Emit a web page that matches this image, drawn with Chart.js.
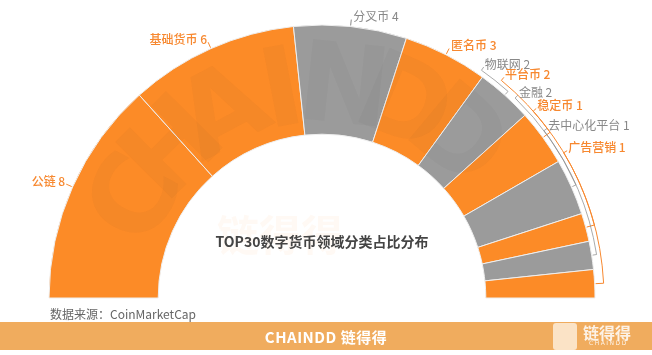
<!DOCTYPE html>
<html>
<head>
<meta charset="utf-8">
<script src="https://cdn.jsdelivr.net/npm/chart.js@4.4.0/dist/chart.umd.min.js"></script>
<style>
  body { margin: 0; background: #fff; font-family: "Noto Sans CJK SC", "Noto Sans", sans-serif; }
  #wrap { position: relative; width: 652px; height: 355px; overflow: hidden; }
  #chart { position: absolute; left: 0; top: 0; }
  #title { position: absolute; left: 0; width: 644px; top: 231px; text-align: center; font-size: 14px; font-weight: bold; color: #444; }
  #source { position: absolute; left: 50px; top: 305px; font-size: 12px; color: #666; }
  #banner { position: absolute; left: 0; top: 322px; width: 652px; height: 28px; background: #f0ac5e; }
  #brand { position: absolute; left: 0; width: 652px; top: 4px; text-align: center; color: #fff; font-size: 15px; font-weight: bold; letter-spacing: 0.5px; }
  #logo { position: absolute; left: 553px; top: 1px; width: 24px; height: 27px; background: #fbe3c6; border-radius: 3px; }
  #logoTxt { position: absolute; left: 583px; top: -2px; color: #fff; font-size: 16px; font-weight: bold; opacity: 0.85; }
  #logoSub { position: absolute; left: 589px; top: 17px; color: #fff; font-size: 6px; letter-spacing: 1.5px; opacity: 0.85; font-family: "DejaVu Sans", sans-serif; }
</style>
</head>
<body>
<div id="wrap">
  <canvas id="chart" width="652" height="355"></canvas>
  <div id="title">TOP30数字货币领域分类占比分布</div>
  <div id="source">数据来源：CoinMarketCap</div>
  <div id="banner">
    <div id="brand">CHAINDD 链得得</div>
    <div id="logo"></div>
    <div id="logoTxt">链得得</div>
    <div id="logoSub">CHAINDD</div>
  </div>
</div>
<script>
// categories and counts (TOP30 coins)
const categories = ['公链', '基础货币', '分叉币', '匿名币', '物联网', '平台币', '金融', '稳定币', '去中心化平台', '广告营销'];
const counts = [8, 6, 4, 3, 2, 2, 2, 1, 1, 1];
const ORANGE = '#fc8b27';
const GRAY = '#9b9b9b';
const sliceColors = [ORANGE, ORANGE, GRAY, ORANGE, GRAY, ORANGE, GRAY, ORANGE, GRAY, ORANGE];
const labelColors = ['#f7882f', '#f7882f', '#888', '#f7882f', '#888', '#f7882f', '#888', '#f7882f', '#888', '#f7882f'];
// small slices get their labels stacked up along the rim (degrees from the left end)
const stackedLabelDeg = { 4: 125, 5: 129.5, 6: 134, 7: 138.5, 8: 143, 9: 149 };

const toCanvasAngle = deg => -Math.PI + deg * Math.PI / 180;

// watermark + labels drawn over the arcs
const labelPlugin = {
    id: 'labels',
    afterDatasetsDraw(chart) {
        const ctx = chart.ctx;
        const arcs = chart.getDatasetMeta(0).data;
        const cx = arcs[0].x, cy = arcs[0].y, R = arcs[0].outerRadius;

        // faint CHAINDD watermark bent along the ring
        ctx.save();
        ctx.font = 'bold 110px "DejaVu Sans", sans-serif';
        ctx.fillStyle = 'rgba(60,60,60,0.035)';
        ctx.textAlign = 'center';
        ctx.textBaseline = 'middle';
        'CHAINDD'.split('').forEach((ch, i) => {
            const a = toCanvasAngle(28 + i * 17);
            ctx.save();
            ctx.translate(cx + 205 * Math.cos(a), cy + 205 * Math.sin(a));
            ctx.rotate(a + Math.PI / 2);
            ctx.fillText(ch, 0, 0);
            ctx.restore();
        });
        ctx.font = 'bold 42px "Noto Sans CJK SC"';
        ctx.fillStyle = 'rgba(252,139,39,0.05)';
        ctx.fillText('链得得', 280, 235);
        ctx.restore();

        ctx.save();
        ctx.textBaseline = 'middle';
        ctx.lineWidth = 1;
        arcs.forEach((arc, i) => {
            const mid = (arc.startAngle + arc.endAngle) / 2;
            const text = categories[i] + ' ' + counts[i];
            ctx.strokeStyle = labelColors[i];
            ctx.fillStyle = labelColors[i];
            ctx.font = (labelColors[i] === '#888' ? '' : '500 ') + '12px "Noto Sans CJK SC", sans-serif';
            if (stackedLabelDeg[i] === undefined) {
                const c = Math.cos(mid), s = Math.sin(mid);
                const px = cx + (R + 1) * c, py = cy + (R + 1) * s;
                const qx = px + 6 * c, qy = py + 6 * s;
                ctx.beginPath();
                ctx.moveTo(px, py);
                ctx.lineTo(qx, qy);
                ctx.stroke();
                ctx.textAlign = c < 0 ? 'right' : 'left';
                ctx.fillText(text, qx + (c < 0 ? -1 : 2), qy - 3);
            } else {
                const la = toCanvasAngle(stackedLabelDeg[i]);
                const rr = R + (i % 2 === 1 ? 9 : 5);
                ctx.globalAlpha = i % 2 === 1 ? 1 : 0.7;
                ctx.beginPath();
                ctx.moveTo(cx + (R + 1) * Math.cos(mid), cy + (R + 1) * Math.sin(mid));
                ctx.lineTo(cx + rr * Math.cos(mid), cy + rr * Math.sin(mid));
                ctx.arc(cx, cy, rr, mid, la, true);
                const qx = cx + (rr + 4) * Math.cos(la), qy = cy + (rr + 4) * Math.sin(la);
                ctx.lineTo(qx, qy);
                ctx.stroke();
                ctx.globalAlpha = 1;
                ctx.textAlign = 'left';
                ctx.fillText(text, qx + 1, qy - 3);
            }
        });
        ctx.restore();
    }
};

new Chart(document.getElementById('chart').getContext('2d'), {
    type: 'doughnut',
    data: {
        labels: categories,
        datasets: [{
            data: counts,
            backgroundColor: sliceColors,
            borderColor: '#eeeeee',
            borderWidth: 1
        }]
    },
    options: {
        responsive: false,
        animation: false,
        rotation: -90,
        circumference: 180,
        cutout: '60%',
        radius: 273,
        layout: { padding: { left: 49, right: 57, top: 25, bottom: 57 } },
        plugins: { legend: { display: false }, tooltip: { enabled: false } }
    },
    plugins: [labelPlugin]
});
</script>
</body>
</html>
